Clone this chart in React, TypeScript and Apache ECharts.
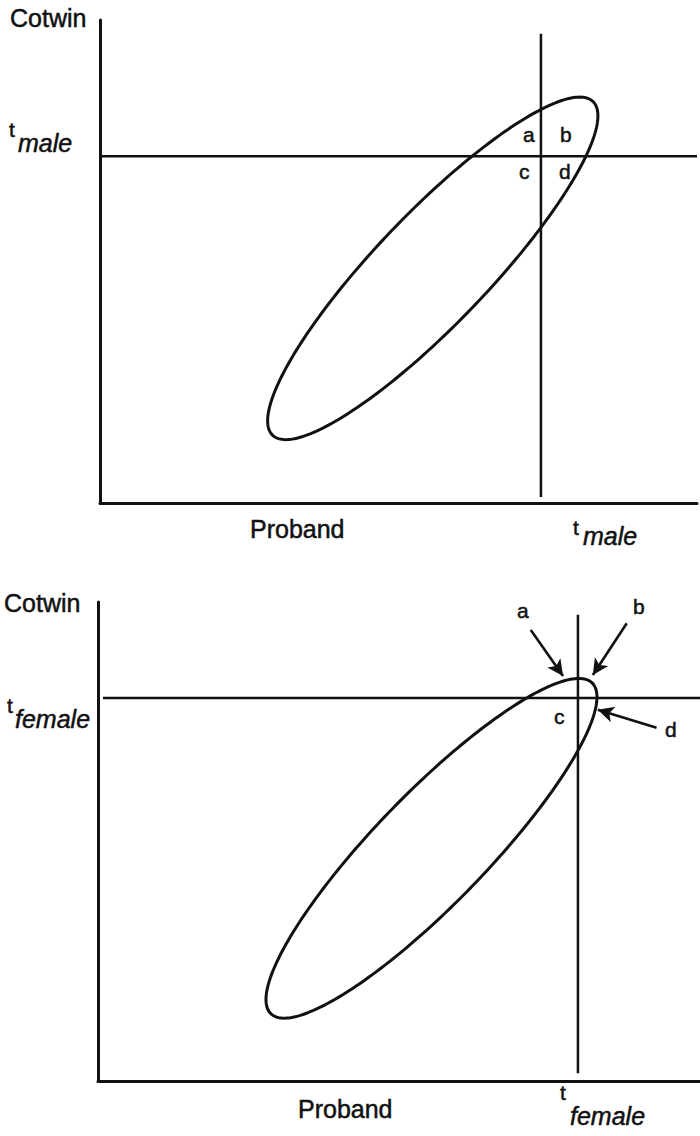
import { useEffect, useRef } from "react";
import * as echarts from "echarts";

// Liability scale, in standard deviations from the population mean.
const maleXRange = [-4.03, 3.2];
const femaleXRange = [-4.03, 3.245];
const liabilityYRange = [-2.74, 2.9];

// Proband/cotwin liability contour: [meanX, meanY, correlation, contour radius]
const maleContour = [0, 0, 0.89, 2];
const femaleContour = [0, 0, 0.89, 2];

// Affection thresholds
const maleThreshold = 1.31;
const femaleThreshold = 1.77;

// Extents of the threshold lines
const maleVLineY = [-2.67, 2.74];
const maleHLineX = [-4.03, 3.2];
const femaleVLineY = [-2.65, 2.75];
const femaleHLineX = [-3.97, 3.245];

// Pointers to the small cells a, b, d in the female panel: [from, to]
const femaleArrows = [
  [[1.2, 2.57], [1.59, 2.03]],
  [[2.36, 2.65], [1.95, 2.04]],
  [[2.72, 1.42], [2.01, 1.63]],
];

const INK = "#111";
const FONT = "'Liberation Sans', Arial, Helvetica, sans-serif";

const renderContour = (_params: any, api: any) => {
  const mx = api.value(0);
  const my = api.value(1);
  const r = api.value(2);
  const c = api.value(3);
  const major = c * Math.sqrt((1 + r) / 2);
  const minor = c * Math.sqrt((1 - r) / 2);
  const points: number[][] = [];
  const n = 240;
  for (let i = 0; i < n; i++) {
    const a = (i / n) * Math.PI * 2;
    const u = major * Math.cos(a);
    const v = minor * Math.sin(a);
    points.push(api.coord([mx + u - v, my + u + v]));
  }
  return {
    type: "polygon",
    shape: { points },
    style: { fill: "none", stroke: INK, lineWidth: 3 },
  };
};

const label = (text: string, x: number, baseline: number, size: number, italic = false) => ({
  type: "text",
  x,
  y: baseline - 0.35 * size,
  style: {
    text,
    fill: INK,
    stroke: INK,
    lineWidth: 0.5,
    font: `${italic ? "italic " : ""}${size}px ${FONT}`,
    align: "left",
    verticalAlign: "middle",
  },
});

const axisCommon = {
  type: "value",
  axisLine: { show: true, onZero: false, lineStyle: { color: INK, width: 3 } },
  axisTick: { show: false },
  axisLabel: { show: false },
  splitLine: { show: false },
};

const segment = (xi: number, yi: number, data: number[][], width = 2.5) => ({
  type: "line",
  xAxisIndex: xi,
  yAxisIndex: yi,
  data,
  symbol: "none",
  clip: false,
  silent: true,
  lineStyle: { color: INK, width },
});

export default function App() {
  const ref = useRef<HTMLDivElement>(null);

  useEffect(() => {
    if (!ref.current) return;
    const chart = echarts.init(ref.current, null, { renderer: "svg" });
    chart.setOption({
      animation: false,
      backgroundColor: "#fff",
      grid: [
        { left: 100, top: 20, width: 597, height: 483 },
        { left: 98, top: 602, width: 602, height: 479 },
      ],
      xAxis: [
        { ...axisCommon, gridIndex: 0, min: maleXRange[0], max: maleXRange[1] },
        { ...axisCommon, gridIndex: 1, min: femaleXRange[0], max: femaleXRange[1] },
      ],
      yAxis: [
        { ...axisCommon, gridIndex: 0, min: liabilityYRange[0], max: liabilityYRange[1] },
        { ...axisCommon, gridIndex: 1, min: liabilityYRange[0], max: liabilityYRange[1] },
      ],
      series: [
        {
          type: "custom",
          xAxisIndex: 0,
          yAxisIndex: 0,
          renderItem: renderContour,
          data: [maleContour],
          silent: true,
          clip: false,
        },
        segment(0, 0, [
          [maleThreshold, maleVLineY[0]],
          [maleThreshold, maleVLineY[1]],
        ]),
        segment(0, 0, [
          [maleHLineX[0], maleThreshold],
          [maleHLineX[1], maleThreshold],
        ]),
        {
          type: "custom",
          xAxisIndex: 1,
          yAxisIndex: 1,
          renderItem: renderContour,
          data: [femaleContour],
          silent: true,
          clip: false,
        },
        segment(1, 1, [
          [femaleThreshold, femaleVLineY[0]],
          [femaleThreshold, femaleVLineY[1]],
        ]),
        {
          ...segment(1, 1, [
            [femaleHLineX[0], femaleThreshold],
            [femaleHLineX[1], femaleThreshold],
          ]),
          markLine: {
            silent: true,
            symbol: ["none", "arrow"],
            symbolSize: [12, 16],
            label: { show: false },
            lineStyle: { color: INK, width: 2.6, type: "solid" },
            data: femaleArrows.map(([from, to]) => [{ coord: from }, { coord: to }]),
          },
        },
      ],
      graphic: [
        // male panel
        label("Cotwin", 10, 27, 25),
        label("t", 9, 137, 21),
        label("male", 18, 152, 25, true),
        label("a", 523, 142, 21),
        label("b", 560, 142, 21),
        label("c", 519, 179, 21),
        label("d", 559, 179, 21),
        label("Proband", 250, 538, 25),
        label("t", 573, 535, 21),
        label("male", 583, 545, 25, true),
        // female panel
        label("Cotwin", 4, 612, 25),
        label("t", 7, 713, 21),
        label("female", 15, 728, 25, true),
        label("a", 517, 618, 21),
        label("b", 633, 614, 21),
        label("c", 554, 724, 21),
        label("d", 665, 737, 21),
        label("Proband", 298, 1118, 25),
        label("t", 560, 1100, 21),
        label("female", 570, 1125, 25, true),
      ],
    });
    return () => chart.dispose();
  }, []);

  return (
    <div
      ref={ref}
      style={{ position: "fixed", left: 0, top: 0, width: 700, height: 1136, background: "#fff" }}
    />
  );
}
